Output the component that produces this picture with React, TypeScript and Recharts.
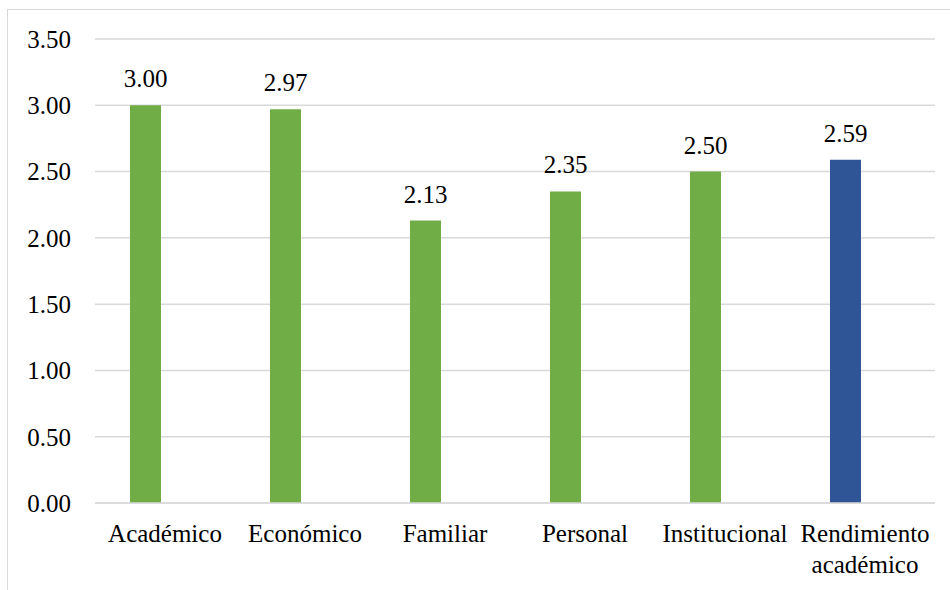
import React from 'react';
import { BarChart, Bar, XAxis, YAxis, CartesianGrid, LabelList, Cell } from 'recharts';

const categories = ['Académico', 'Económico', 'Familiar', 'Personal', 'Institucional', 'Rendimiento académico'];
const values = [3.0, 2.97, 2.13, 2.35, 2.5, 2.59];
const barColors = ['#70AD47', '#70AD47', '#70AD47', '#70AD47', '#70AD47', '#2F5597'];
const yTicks = [0, 0.5, 1, 1.5, 2, 2.5, 3, 3.5];

const FONT = "'Liberation Serif', 'Times New Roman', Times, 'DejaVu Serif', serif";

const data = categories.map((name, i) => ({ name, value: values[i], spacer: null }));

// category labels, long names break on the space
const CategoryTick = (props: any) => {
  const { x, y, payload } = props;
  const words: string[] = String(payload.value).split(' ');
  const lines = words.length > 1 ? words : [payload.value];
  return (
    <text x={x} y={y} textAnchor="middle" fill="#000" style={{ fontFamily: FONT, fontSize: 25 }}>
      {lines.map((line, i) => (
        <tspan key={i} x={x} dy={i === 0 ? 31 : 31}>{line}</tspan>
      ))}
    </text>
  );
};

export default function App() {
  return (
    <div style={{ position: 'absolute', left: 0, top: 0, width: 950, height: 590, overflow: 'hidden', background: '#fff', fontFamily: FONT }}>
      <div style={{ position: 'absolute', left: 7, top: 9, width: 960, height: 600, border: '1.5px solid #d9d9d9', boxSizing: 'border-box' }} />
      <BarChart
        width={950}
        height={590}
        data={data}
        margin={{ top: 39, right: 15, bottom: 0, left: 0 }}
        barSize={31}
        barGap={9}
        style={{ position: 'absolute', left: 0, top: 0, fontFamily: FONT }}
      >
        <CartesianGrid vertical={false} stroke="#d9d9d9" strokeWidth={1.5} />
        <XAxis
          dataKey="name"
          height={87}
          axisLine={{ stroke: '#d9d9d9', strokeWidth: 1.5 }}
          tickLine={false}
          tick={<CategoryTick />}
          interval={0}
        />
        <YAxis
          width={95}
          domain={[0, 3.5]}
          ticks={yTicks}
          axisLine={false}
          tickLine={false}
          tickSize={0}
          tickMargin={24}
          tickFormatter={(v: number) => v.toFixed(2)}
          tick={{ fill: '#000', fontSize: 25, style: { fontFamily: FONT } }}
        />
        <Bar dataKey="value" isAnimationActive={false}>
          {data.map((d, i) => (
            <Cell key={d.name} fill={barColors[i]} />
          ))}
          <LabelList
            dataKey="value"
            position="top"
            offset={18}
            formatter={(v: any) => Number(v).toFixed(2)}
            fill="#000"
            fontSize={25}
            style={{ fontFamily: FONT }}
          />
        </Bar>
        <Bar dataKey="spacer" fill="transparent" isAnimationActive={false} />
      </BarChart>
    </div>
  );
}
